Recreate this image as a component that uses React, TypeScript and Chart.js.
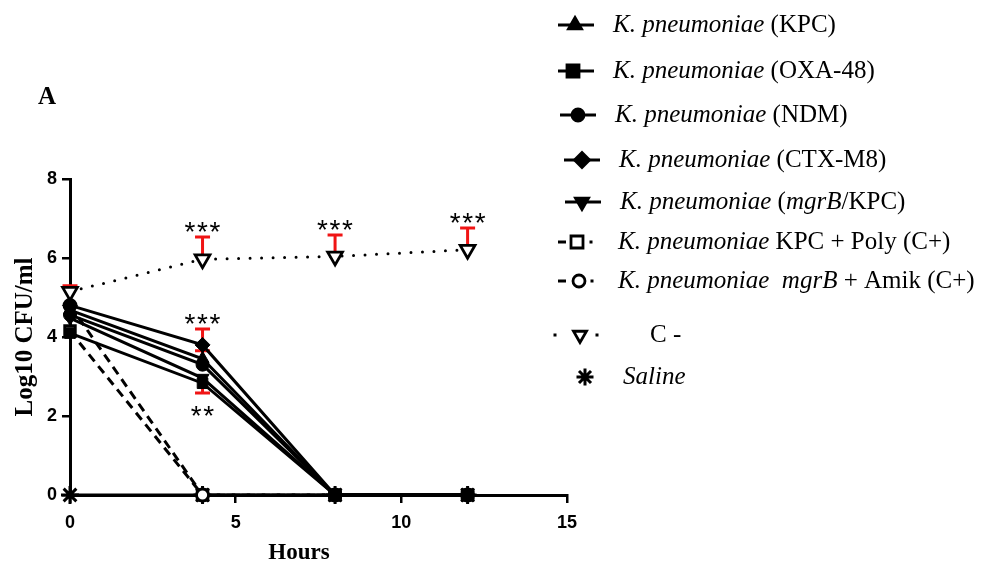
import React, { useEffect, useRef } from "react";
import { Chart, registerables } from "chart.js";

Chart.register(...registerables);

// ---------------- data ----------------
const hours = [0, 4, 8, 12];

const kpc = [4.68, 3.45, 0, 0];
const oxa48 = [4.1, 2.83, 0, 0];
const ndm = [4.56, 3.3, 0, 0];
const ctxm8 = [4.8, 3.8, 0, 0];
const mgrbKpc = [4.48, 2.96, 0, 0];
const kpcPoly = [4.15, 0, 0, 0];
const mgrbAmik = [4.8, 0, 0, 0];
const cNeg = [5.15, 5.97, 6.04, 6.21];
const saline = [0, 0, 0, 0];

// error bars (SD), drawn one-sided as in the figure
const cNegErrUp = [0.15, 0.56, 0.54, 0.55];
const ctxm8ErrUp = [0, 0.4, 0, 0];
const kpcErrUp = [0, 0.2, 0, 0];
const oxa48ErrDown = [0, 0.25, 0, 0];

// significance marks
const cNegSig = ["", "***", "***", "***"];
const ctxm8Sig = ["", "***", "", ""];
const oxa48Sig = ["", "**", "", ""];

const xTickValues = [0, 5, 10, 15];
const yTickValues = [0, 2, 4, 6, 8];

const panelLabel = "A";
const xTitle = "Hours";
const yTitle = "Log10 CFU/ml";

type Seg = { t: string; i?: boolean };
const legendTexts: Seg[][] = [
  [{ t: "K. pneumoniae", i: true }, { t: " (KPC)" }],
  [{ t: "K. pneumoniae", i: true }, { t: " (OXA-48)" }],
  [{ t: "K. pneumoniae", i: true }, { t: " (NDM)" }],
  [{ t: "K. pneumoniae", i: true }, { t: " (CTX-M8)" }],
  [{ t: "K. pneumoniae", i: true }, { t: " (" }, { t: "mgrB", i: true }, { t: "/KPC)" }],
  [{ t: "K. pneumoniae", i: true }, { t: " KPC + Poly (C+)" }],
  [{ t: "K. pneumoniae  mgrB", i: true }, { t: " + Amik (C+)" }],
  [{ t: "C -" }],
  [{ t: "Saline", i: true }],
];

// ---------------- styles / layout ----------------
const W = 988;
const H = 569;
const SERIF = "'Liberation Serif', 'Times New Roman', Times, serif";
const SANS = "'Liberation Sans', Arial, Helvetica, sans-serif";
const RED = "#f01414";

type MarkerKind = "triUp" | "triDown" | "rect" | "circle" | "diamond" | "star";
type LineKind = "solid" | "dashed" | "dotted" | "none";

const legendLayout: {
  y: number; x0: number; x1: number; mx: number; tx: number;
  marker: MarkerKind; size: number; filled: boolean; line: LineKind;
}[] = [
  { y: 25, x0: 558, x1: 594, mx: 575, tx: 613, marker: "triUp", size: 7.5, filled: true, line: "solid" },
  { y: 71, x0: 558, x1: 594, mx: 573, tx: 613, marker: "rect", size: 6, filled: true, line: "solid" },
  { y: 115, x0: 560, x1: 596, mx: 578, tx: 615, marker: "circle", size: 6, filled: true, line: "solid" },
  { y: 160, x0: 564, x1: 600, mx: 582, tx: 619, marker: "diamond", size: 7.5, filled: true, line: "solid" },
  { y: 202, x0: 565, x1: 601, mx: 582, tx: 620, marker: "triDown", size: 7.5, filled: true, line: "solid" },
  { y: 242, x0: 558, x1: 591, mx: 577, tx: 618, marker: "rect", size: 6, filled: false, line: "dashed" },
  { y: 281, x0: 558, x1: 592, mx: 579, tx: 618, marker: "circle", size: 6, filled: false, line: "dashed" },
  { y: 335, x0: 555, x1: 597, mx: 580, tx: 650, marker: "triDown", size: 7.5, filled: false, line: "dotted" },
  { y: 377, x0: 585, x1: 585, mx: 585, tx: 623, marker: "star", size: 8.5, filled: true, line: "none" },
];

function triPath(ctx: CanvasRenderingContext2D, x: number, y: number, r: number, rot: number) {
  for (let k = 0; k < 3; k++) {
    const a = rot + (k * 2 * Math.PI) / 3;
    const px = x + Math.sin(a) * r;
    const py = y - Math.cos(a) * r;
    if (k === 0) ctx.moveTo(px, py);
    else ctx.lineTo(px, py);
  }
  ctx.closePath();
}

function drawMarker(ctx: CanvasRenderingContext2D, kind: MarkerKind, x: number, y: number, r: number, filled: boolean) {
  ctx.save();
  ctx.beginPath();
  ctx.lineWidth = 2.8;
  ctx.strokeStyle = "#000";
  ctx.fillStyle = filled ? "#000" : "#fff";
  ctx.setLineDash([]);
  if (kind === "triUp") triPath(ctx, x, y, r, 0);
  else if (kind === "triDown") triPath(ctx, x, y, r, Math.PI);
  else if (kind === "rect") ctx.rect(x - r, y - r, 2 * r, 2 * r);
  else if (kind === "circle") ctx.arc(x, y, r, 0, Math.PI * 2);
  else if (kind === "diamond") {
    ctx.moveTo(x, y - r);
    ctx.lineTo(x + r, y);
    ctx.lineTo(x, y + r);
    ctx.lineTo(x - r, y);
    ctx.closePath();
  }
  if (kind === "star") {
    ctx.lineWidth = 3;
    const d = r * Math.SQRT1_2;
    ctx.moveTo(x, y - r); ctx.lineTo(x, y + r);
    ctx.moveTo(x - r, y); ctx.lineTo(x + r, y);
    ctx.moveTo(x - d, y - d); ctx.lineTo(x + d, y + d);
    ctx.moveTo(x - d, y + d); ctx.lineTo(x + d, y - d);
    ctx.stroke();
  } else {
    ctx.fill();
    ctx.stroke();
  }
  ctx.restore();
}

const errorSpecs = [
  { values: cNeg, err: cNegErrUp, dir: 1 },
  { values: ctxm8, err: ctxm8ErrUp, dir: 1 },
  { values: kpc, err: kpcErrUp, dir: 1 },
  { values: oxa48, err: oxa48ErrDown, dir: -1 },
];

const sigSpecs = [
  { values: cNeg, err: cNegErrUp, dir: 1, marks: cNegSig },
  { values: ctxm8, err: ctxm8ErrUp, dir: 1, marks: ctxm8Sig },
  { values: oxa48, err: oxa48ErrDown, dir: -1, marks: oxa48Sig },
];

const overlayPlugin = {
  id: "overlay",
  beforeDatasetsDraw(chart: any) {
    const { ctx } = chart;
    const xs = chart.scales.x;
    const ys = chart.scales.y;
    ctx.save();
    ctx.strokeStyle = RED;
    ctx.lineWidth = 3;
    ctx.setLineDash([]);
    errorSpecs.forEach((s) => {
      hours.forEach((h, i) => {
        const e = s.err[i];
        if (!e) return;
        const px = xs.getPixelForValue(h);
        const y0 = ys.getPixelForValue(s.values[i]);
        const y1 = ys.getPixelForValue(s.values[i] + s.dir * e);
        ctx.beginPath();
        ctx.moveTo(px, y0);
        ctx.lineTo(px, y1);
        ctx.moveTo(px - 7.5, y1);
        ctx.lineTo(px + 7.5, y1);
        ctx.stroke();
      });
    });
    ctx.restore();
  },
  afterDatasetsDraw(chart: any) {
    const { ctx } = chart;
    const xs = chart.scales.x;
    const ys = chart.scales.y;
    ctx.save();
    ctx.fillStyle = "#000";
    ctx.font = `28px ${SANS}`;
    ctx.textAlign = "center";
    ctx.textBaseline = "alphabetic";
    sigSpecs.forEach((s) => {
      hours.forEach((h, i) => {
        const m = s.marks[i];
        if (!m) return;
        const px = xs.getPixelForValue(h);
        const cap = ys.getPixelForValue(s.values[i] + s.dir * s.err[i]);
        const base = s.dir > 0 ? cap + 4 : cap + 32;
        const n = m.length;
        const step = 12.5;
        for (let k = 0; k < n; k++) {
          ctx.fillText(m[k], px + (k - (n - 1) / 2) * step, base);
        }
      });
    });
    ctx.restore();
  },
  afterDraw(chart: any) {
    const { ctx, chartArea } = chart;
    ctx.save();
    ctx.fillStyle = "#000";
    // panel label
    ctx.font = `bold 25px ${SERIF}`;
    ctx.textAlign = "center";
    ctx.textBaseline = "middle";
    ctx.fillText(panelLabel, 47, 98);
    // y title
    ctx.save();
    ctx.translate(26, (chartArea.top + chartArea.bottom) / 2);
    ctx.rotate(-Math.PI / 2);
    ctx.font = `bold 25px ${SERIF}`;
    ctx.fillText(yTitle, 0, 0);
    ctx.restore();
    // x title
    ctx.font = `bold 23px ${SERIF}`;
    ctx.fillText(xTitle, 299, 553);

    // legend
    legendLayout.forEach((row, idx) => {
      ctx.save();
      ctx.strokeStyle = "#000";
      ctx.fillStyle = "#000";
      ctx.lineWidth = 3;
      if (row.line === "solid") {
        ctx.beginPath();
        ctx.moveTo(row.x0, row.y);
        ctx.lineTo(row.x1, row.y);
        ctx.stroke();
      } else if (row.line === "dashed") {
        ctx.beginPath();
        ctx.moveTo(row.x0, row.y);
        ctx.lineTo(row.x0 + 8, row.y);
        ctx.stroke();
        ctx.fillRect(row.x1 - 1.5, row.y - 1.5, 3, 3);
      } else if (row.line === "dotted") {
        ctx.fillRect(row.x0 - 1.5, row.y - 1.5, 3, 3);
        ctx.fillRect(row.x1 - 1.5, row.y - 1.5, 3, 3);
      }
      ctx.restore();
      drawMarker(ctx, row.marker, row.mx, row.y, row.size, row.filled);

      let x = row.tx;
      ctx.textAlign = "left";
      ctx.textBaseline = "middle";
      legendTexts[idx].forEach((seg) => {
        ctx.font = `${seg.i ? "italic " : ""}25px ${SERIF}`;
        ctx.fillText(seg.t, x, row.y);
        x += ctx.measureText(seg.t).width;
      });
    });
    ctx.restore();
  },
};

function pts(values: number[]) {
  return hours.map((h, i) => ({ x: h, y: values[i] }));
}

function series(
  label: string, values: number[], pointStyle: string, radius: number,
  opts: { rotation?: number; open?: boolean; dash?: number[]; cap?: string; order?: number; bw?: number } = {}
) {
  return {
    label,
    data: pts(values),
    borderColor: "#000",
    backgroundColor: "#000",
    borderWidth: 3,
    borderDash: opts.dash || [],
    borderCapStyle: opts.cap || "butt",
    pointStyle,
    pointRadius: radius,
    pointRotation: opts.rotation || 0,
    pointBackgroundColor: opts.open ? "#fff" : "#000",
    pointBorderColor: "#000",
    pointBorderWidth: opts.bw ?? (opts.open ? 2.8 : 1),
    tension: 0,
    clip: false as any,
    order: opts.order ?? 0,
  };
}

export default function App() {
  const ref = useRef<HTMLCanvasElement | null>(null);
  useEffect(() => {
    document.body.style.margin = "0";
    const canvas = ref.current;
    if (!canvas) return;
    const tickFont = { family: SANS, size: 18, weight: "bold" as const };
    const chart = new Chart(canvas, {
      type: "line",
      data: {
        datasets: [
          series("K. pneumoniae (KPC)", kpc, "triangle", 7.5),
          series("K. pneumoniae (OXA-48)", oxa48, "rect", 7.5),
          series("K. pneumoniae (NDM)", ndm, "circle", 6.5),
          series("K. pneumoniae (CTX-M8)", ctxm8, "rectRot", 7.5),
          series("K. pneumoniae (mgrB/KPC)", mgrbKpc, "triangle", 7.5, { rotation: 180 }),
          series("K. pneumoniae KPC + Poly (C+)", kpcPoly, "rect", 7.5, { open: true, dash: [9, 6], order: 2 }),
          series("K. pneumoniae mgrB + Amik (C+)", mgrbAmik, "circle", 6, { open: true, dash: [9, 6], order: 1 }),
          series("C -", cNeg, "triangle", 8.5, { open: true, rotation: 180, dash: [0, 11.5], cap: "round", order: 0 }),
          series("Saline", saline, "star", 9, { bw: 3, order: 3 }),
        ] as any,
      },
      options: {
        responsive: false,
        maintainAspectRatio: false,
        devicePixelRatio: 1,
        animation: false,
        events: [],
        layout: { padding: { left: 0, top: 179, right: 421, bottom: 0 } },
        plugins: { legend: { display: false }, tooltip: { enabled: false }, title: { display: false } },
        scales: {
          x: {
            type: "linear",
            min: 0,
            max: 15,
            afterBuildTicks: (s: any) => { s.ticks = xTickValues.map((v) => ({ value: v })); },
            afterFit: (s: any) => { s.height = H - 495; },
            ticks: { color: "#000", font: tickFont, padding: 9, maxRotation: 0 },
            grid: { display: true, drawOnChartArea: false, drawTicks: true, tickLength: 8, lineWidth: 2.5, color: "#000" },
            border: { display: true, width: 3, color: "#000" },
          },
          y: {
            type: "linear",
            min: 0,
            max: 8,
            afterBuildTicks: (s: any) => { s.ticks = yTickValues.map((v) => ({ value: v })); },
            afterFit: (s: any) => { s.width = 70; },
            ticks: { color: "#000", font: tickFont, padding: 5 },
            grid: { display: true, drawOnChartArea: false, drawTicks: true, tickLength: 8, lineWidth: 2.5, color: "#000" },
            border: { display: true, width: 3, color: "#000" },
          },
        },
      } as any,
      plugins: [overlayPlugin as any],
    });
    return () => chart.destroy();
  }, []);
  return (
    <div style={{ width: W, height: H, background: "#fff" }}>
      <canvas ref={ref} width={W} height={H} style={{ display: "block", width: W, height: H }} />
    </div>
  );
}
